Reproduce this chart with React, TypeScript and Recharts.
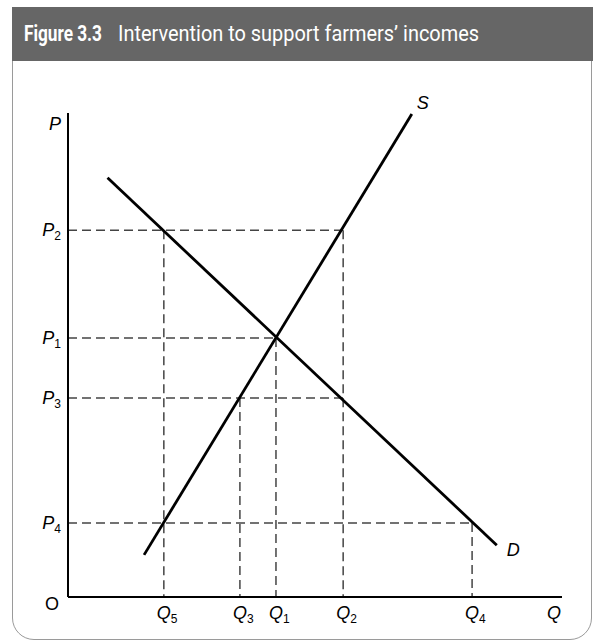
import { LineChart, Line, XAxis, YAxis, ReferenceLine } from "recharts";

// tick positions (0..100 scale) and subscripts
const qTickValues = [19.4, 34.8, 42.1, 55.7, 81.8];
const qTickSubs = ["5", "3", "1", "2", "4"];
const pTickValues = [15.3, 41.1, 53.5, 75.8];
const pTickSubs = ["4", "3", "1", "2"];

// demand and supply curves (end points)
const demandQ = [8, 86.8];
const demandP = [86.6, 10.7];
const supplyQ = [15.4, 69.6];
const supplyP = [8.7, 99.8];

const Q5 = qTickValues[0], Q3 = qTickValues[1], Q1 = qTickValues[2], Q2 = qTickValues[3], Q4 = qTickValues[4];
const P4 = pTickValues[0], P3 = pTickValues[1], P1 = pTickValues[2], P2 = pTickValues[3];

const demand = demandQ.map((q, i) => ({ q, p: demandP[i] }));
const supply = supplyQ.map((q, i) => ({ q, p: supplyP[i] }));

// dashed guide lines: [q1, p1, q2, p2]
const guides = [
    [0, P2, Q2, P2],
    [Q5, P2, Q5, 0],
    [Q2, P2, Q2, 0],
    [0, P1, Q1, P1],
    [Q1, P1, Q1, 0],
    [0, P3, Q2, P3],
    [Q3, P3, Q3, 0],
    [0, P4, Q4, P4],
    [Q4, P4, Q4, 0]
];

const FONT = "'Liberation Sans', Arial, sans-serif";

function PTick({ y, payload }: any) {
    const i = pTickValues.indexOf(payload.value);
    return (
        <text x={68 - 7} y={y + 6} textAnchor="end" fontFamily={FONT} fill="#000">
            <tspan fontSize={18} fontStyle="italic">P</tspan>
            <tspan fontSize={12} dy={4}>{pTickSubs[i]}</tspan>
        </text>
    );
}

function QTick({ x, payload }: any) {
    const i = qTickValues.indexOf(payload.value);
    return (
        <text x={x - 7} y={597 + 22} textAnchor="start" fontFamily={FONT} fill="#000">
            <tspan fontSize={18} fontStyle="italic">Q</tspan>
            <tspan fontSize={12} dy={4}>{qTickSubs[i]}</tspan>
        </text>
    );
}

function endLabel(text: string, dx: number, dy: number) {
    return ({ x, y, index }: any) =>
        index === 1 ? (
            <text x={x + dx} y={y + dy} fontFamily={FONT} fontSize={18} fontStyle="italic" fill="#000">
                {text}
            </text>
        ) : null;
}

export default function App() {
    return (
        <div style={{ position: "absolute", left: 0, top: 0, width: 595, height: 643, background: "#fff", overflow: "hidden" }}>

            {/* frame */}
            <div
                style={{
                    position: "absolute",
                    left: 12,
                    top: 7,
                    width: 580,
                    height: 633,
                    border: "1px solid #9a9a9a",
                    borderRadius: "0 0 22px 22px",
                    boxSizing: "border-box"
                }}
            />

            {/* title bar */}
            <svg width={595} height={62} style={{ position: "absolute", left: 0, top: 0 }}>
                <rect x={12} y={7} width={581} height={54} fill="#666666" />
                <text x={24} y={41} fontFamily="Roboto, sans-serif" fontSize={22} fontWeight="bold" fill="#fff"
                      textLength={78} lengthAdjust="spacingAndGlyphs">
                    Figure 3.3
                </text>
                <text x={118} y={41} fontFamily="Roboto, sans-serif" fontSize={22} fill="#fff"
                      textLength={361} lengthAdjust="spacingAndGlyphs">
                    Intervention to support farmers’ incomes
                </text>
            </svg>

            <div style={{ position: "absolute", left: 0, top: 0 }}>
                <LineChart
                    width={595}
                    height={643}
                    margin={{ top: 113, right: 33, left: 0, bottom: 0 }}
                >
                    <XAxis
                        type="number"
                        dataKey="q"
                        domain={[0, 100]}
                        ticks={qTickValues}
                        allowDataOverflow
                        height={46}
                        tickSize={0}
                        tickMargin={0}
                        tickLine={false}
                        axisLine={{ stroke: "#000", strokeWidth: 2 }}
                        tick={<QTick />}
                        interval={0}
                    />
                    <YAxis
                        type="number"
                        dataKey="p"
                        domain={[0, 100]}
                        ticks={pTickValues}
                        allowDataOverflow
                        width={68}
                        tickSize={0}
                        tickMargin={0}
                        tickLine={false}
                        axisLine={{ stroke: "#000", strokeWidth: 2 }}
                        tick={<PTick />}
                        interval={0}
                    />

                    {guides.map(([qa, pa, qb, pb], i) => (
                        <ReferenceLine
                            key={i}
                            segment={[{ x: qa, y: pa }, { x: qb, y: pb }]}
                            stroke="#444"
                            strokeWidth={1.5}
                            strokeDasharray="9 5"
                            ifOverflow="visible"
                        />
                    ))}

                    <Line
                        data={demand}
                        dataKey="p"
                        type="linear"
                        stroke="#000"
                        strokeWidth={2.8}
                        dot={false}
                        isAnimationActive={false}
                        label={endLabel("D", 10, 11)}
                    />
                    <Line
                        data={supply}
                        dataKey="p"
                        type="linear"
                        stroke="#000"
                        strokeWidth={2.8}
                        dot={false}
                        isAnimationActive={false}
                        label={endLabel("S", 5, -5)}
                    />

                    <text x={61} y={130} textAnchor="end" fontFamily={FONT} fontSize={18} fontStyle="italic" fill="#000">P</text>
                    <text x={59} y={610} textAnchor="end" fontFamily={FONT} fontSize={18} fill="#000">O</text>
                    <text x={547} y={619} fontFamily={FONT} fontSize={18} fontStyle="italic" fill="#000">Q</text>
                </LineChart>
            </div>
        </div>
    );
}
